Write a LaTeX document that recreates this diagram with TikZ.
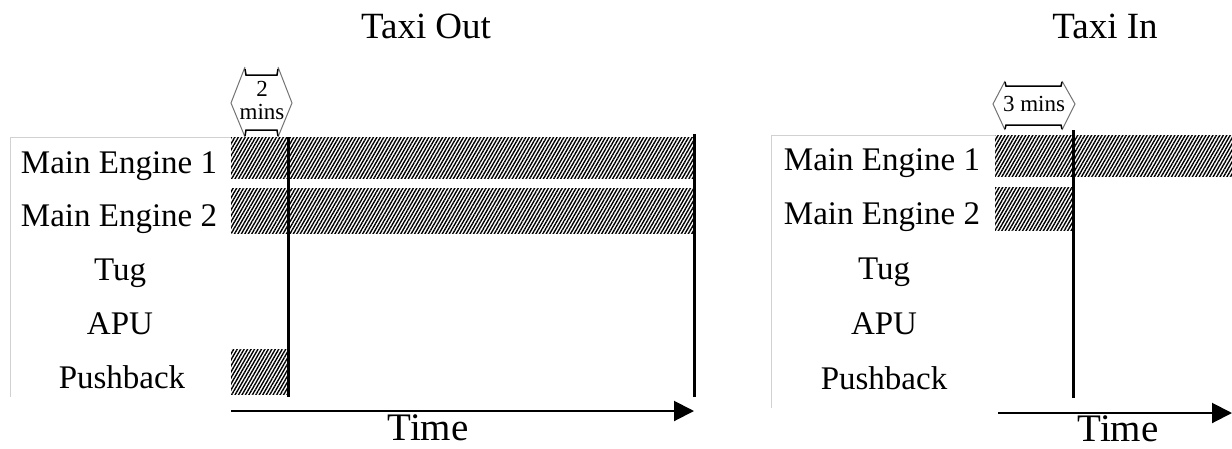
\documentclass[tikz,border=0pt]{standalone}
\usepackage{fontspec}
\setmainfont{Liberation Serif}
\usetikzlibrary{patterns.meta,arrows.meta}
\begin{document}
\begin{tikzpicture}[x=1pt,y=-1pt,
  hatch/.style={pattern={Lines[angle=60,distance=3pt,line width=1.4pt]},draw=none},
  lbl/.style={font=\fontsize{33}{36}\selectfont,anchor=base,inner sep=0pt},
  ttl/.style={font=\fontsize{37}{40}\selectfont,anchor=base,inner sep=0pt},
  timelbl/.style={font=\fontsize{39}{42}\selectfont,anchor=base,inner sep=0pt},
  small/.style={font=\fontsize{23}{25}\selectfont,inner sep=0pt},
  frame/.style={draw=black!18,line width=1pt},
  marker/.style={line width=3pt},
  axis/.style={line width=2pt,-{Triangle[length=20pt,width=20pt]}},
  hexg/.style={draw=black!55,line width=1pt},
  hexb/.style={draw=black,line width=1.5pt}]
\useasboundingbox (0,0) rectangle (1232,448);
\fill[white] (0,0) rectangle (1232,448);

% ---------- Taxi Out ----------
\node[ttl] (t1) at (426,38) {Taxi Out};
\draw[frame] (231,137) -- (10,137) -- (10,397);
\fill[hatch] (231,137) rectangle (693,178);
\fill[hatch] (231,188) rectangle (693,233);
\fill[hatch] (231,349) rectangle (288,394);
\node[lbl] (a1) at (119,173) {Main Engine 1};
\node[lbl] (a2) at (119,226) {Main Engine 2};
\node[lbl] (a3) at (120,280) {Tug};
\node[lbl] (a4) at (120,334) {APU};
\node[lbl] (a5) at (122,388) {Pushback};
\coordinate (v1t) at (288,137); \coordinate (v1b) at (288,397);
\coordinate (v2t) at (694,134); \coordinate (v2b) at (694,397);
\draw[marker] (v1t) -- (v1b);
\draw[marker] (v2t) -- (v2b);
\coordinate (x1s) at (231,411); \coordinate (x1e) at (694,411);
\draw[axis] (x1s) -- (x1e);
\node[timelbl] (tm1) at (428,440) {Time};
% 2 mins marker
\draw[hexg] (245,67) -- (231,103) -- (245,137);
\draw[hexg] (278,67) -- (292,103) -- (278,137);
\draw[hexb] (245,69) -- (246,75) -- (277,75) -- (278,69);
\draw[hexb] (245,136) -- (246,130) -- (277,130) -- (278,136);
\node[small] (d1) at (262,89) {2};
\node[small] (d2) at (262,112) {mins};

% ---------- Taxi In ----------
\node[ttl] (t2) at (1105,38) {Taxi In};
\draw[frame] (995,135) -- (771,135) -- (771,408);
\fill[hatch] (995,135) rectangle (1232,176);
\fill[hatch] (995,187) rectangle (1073,230);
\node[lbl] (b1) at (882,170) {Main Engine 1};
\node[lbl] (b2) at (882,224) {Main Engine 2};
\node[lbl] (b3) at (884,279) {Tug};
\node[lbl] (b4) at (884,334) {APU};
\node[lbl] (b5) at (884,389) {Pushback};
\coordinate (v3t) at (1073,130); \coordinate (v3b) at (1073,398);
\draw[marker] (v3t) -- (v3b);
\coordinate (x2s) at (998,413); \coordinate (x2e) at (1232,413);
\draw[axis] (x2s) -- (x2e);
\node[timelbl] (tm2) at (1118,441) {Time};
% 3 mins marker
\draw[hexg] (1005,81) -- (993,104) -- (1005,130);
\draw[hexg] (1062,81) -- (1075,104) -- (1062,130);
\draw[hexb] (1005,82) -- (1006,86) -- (1061,86) -- (1062,82);
\draw[hexb] (1005,129) -- (1006,125) -- (1061,125) -- (1062,129);
\node[small] (d3) at (1034,104) {3 mins};
\end{tikzpicture}
\end{document}
